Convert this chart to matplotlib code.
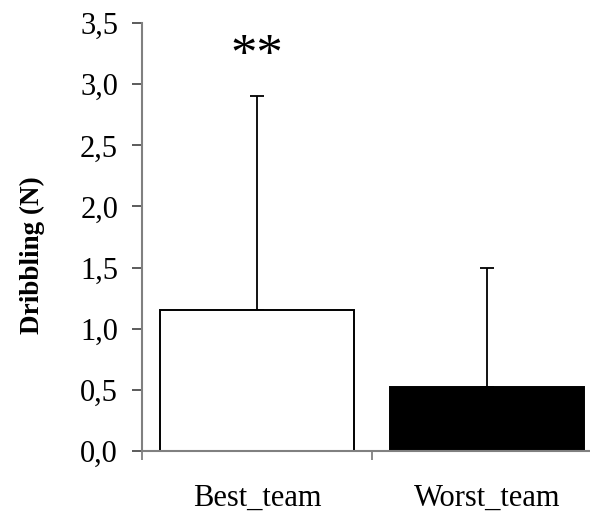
import numpy as np
import matplotlib
matplotlib.use('Agg')
import matplotlib.pyplot as plt
from matplotlib.ticker import FuncFormatter

teams = ['Best_team', 'Worst_team']
means = [1.15, 0.52]
sd_upper = [1.75, 0.98]
colors = ['white', 'black']
yticks = [0.0, 0.5, 1.0, 1.5, 2.0, 2.5, 3.0, 3.5]

plt.rcParams['font.family'] = ['Liberation Serif', 'DejaVu Serif']

fig = plt.figure(figsize=(5.9, 5.13), dpi=100)
ax = fig.add_axes([0.2407, 0.1209, 0.7797, 0.834])

x = np.arange(len(teams))
ax.bar(x, means, width=0.84, color=colors, edgecolor='black', linewidth=1.4, zorder=2)
ax.errorbar(x, means, yerr=[np.zeros(len(means)), sd_upper], fmt='none',
            ecolor='black', elinewidth=1.3, capsize=4.7, capthick=1.3, zorder=1)

ax.text(0, 3.12, '**', ha='center', va='baseline', fontsize=38)

ax.set_xlim(-0.5, 1.5)
ax.set_ylim(0, 3.5)
ax.set_yticks(yticks)
ax.yaxis.set_major_formatter(FuncFormatter(lambda v, p: f'{v:.1f}'.replace('.', ',')))
ax.set_xticks(x)
ax.set_xticklabels(teams, fontsize=22)
ax.set_xticks([-0.5, 0.5, 1.5], minor=True)
ax.tick_params(axis='x', which='major', length=0, pad=23.5)
ax.tick_params(axis='x', which='minor', length=6.5, color='#808080', width=1.3)
ax.tick_params(axis='y', length=7.2, width=1.2, color='#404040', labelsize=22, pad=10)

for side in ['top', 'right']:
    ax.spines[side].set_visible(False)
for side in ['left', 'bottom']:
    ax.spines[side].set_color('#808080')
    ax.spines[side].set_linewidth(1.5)

ax.set_ylabel('Dribbling (N)', fontsize=19.5, fontweight='bold')
ax.yaxis.set_label_coords(-0.21, 0.458)

fig.savefig('out.png', dpi=100)
